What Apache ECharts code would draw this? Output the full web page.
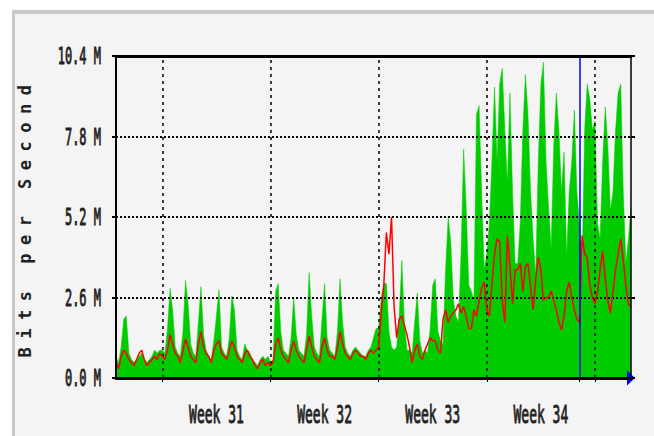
<!DOCTYPE html>
<html><head><meta charset="utf-8">
<script src="https://cdn.jsdelivr.net/npm/echarts@6/dist/echarts.min.js"></script>
<style>html,body{margin:0;padding:0;background:#fff}#c{width:654px;height:436px}</style>
</head><body><div id="c"></div>
<script>
// ---- data (values in Mbit/s), one value every 4 hours starting on day -3 (Friday before week 31) ----
const weekLabels = ['Week 31', 'Week 32', 'Week 33', 'Week 34'];
const weekLabelDays = [3.5, 10.5, 17.5, 24.5];
const weekStartDays = [0, 7, 14, 21, 28];
const markerDay = 27;
const yTicks = [0, 2.6, 5.2, 7.8, 10.4];
const startDay = -3;
const stepDays = 1 / 6;

const inBits = [
  0.7,0.5,1.0,1.9,2.0,0.8,
  0.6,0.5,0.6,0.7,0.8,0.6,
  0.5,0.6,0.7,0.9,0.8,0.9,
  0.9,0.8,1.6,2.9,2.2,1.0,
  0.8,0.7,1.5,3.15,2.4,1.1,
  0.8,0.7,1.8,2.95,1.4,0.9,
  0.7,0.6,1.2,2.0,2.85,1.0,
  0.8,0.7,1.3,2.65,2.2,0.9,
  0.7,0.6,1.1,0.9,0.8,0.6,
  0.5,0.4,0.6,0.7,0.6,0.7,
  0.5,0.6,2.8,3.05,1.5,0.9,
  0.8,0.7,1.3,2.6,1.4,0.9,
  0.8,0.7,1.4,3.4,2.0,1.0,
  0.8,0.7,1.9,3.05,1.3,0.9,
  0.8,0.7,1.5,3.2,1.8,1.0,
  0.8,0.7,0.9,1.0,0.9,0.8,
  0.7,0.7,0.9,1.0,1.3,1.6,
  1.6,2.6,3.05,3.05,1.5,1.0,
  0.9,1.0,2.0,3.8,1.8,0.9,
  0.9,0.8,1.8,2.75,1.2,0.8,
  0.9,0.8,1.6,3.0,3.2,1.5,
  1.2,1.1,3.5,5.2,4.4,2.5,
  2.0,1.8,4.0,7.4,5.5,3.0,
  2.8,2.5,8.5,8.8,6.0,3.5,
  4.0,5.0,7.0,9.4,7.0,9.5,
  10.0,8.0,6.3,9.2,6.0,3.7,
  3.7,5.0,8.0,9.8,8.5,6.0,
  4.5,3.3,7.0,9.5,10.2,7.0,
  5.5,4.2,7.5,9.2,8.0,6.0,
  7.3,3.9,6.0,7.0,8.65,6.0,
  5.0,3.5,8.0,9.5,9.0,8.0,
  8.3,5.0,4.5,7.0,8.75,7.5,
  5.4,6.0,8.0,9.2,9.5,6.0,
  3.7,4.5,5.5
];

const outBits = [
  0.5,0.3,0.7,0.9,0.8,0.6,
  0.5,0.4,0.6,0.8,0.9,0.6,
  0.4,0.5,0.6,0.7,0.6,0.8,
  0.7,0.6,0.9,1.4,1.1,0.8,
  0.7,0.5,0.9,1.25,1.0,0.7,
  0.6,0.5,1.1,1.5,1.0,0.8,
  0.7,0.5,0.9,1.1,1.2,0.8,
  0.7,0.6,0.9,1.2,1.0,0.7,
  0.6,0.5,0.8,0.9,0.7,0.6,
  0.4,0.3,0.5,0.6,0.4,0.5,
  0.4,0.5,1.1,1.3,0.9,0.7,
  0.6,0.5,0.9,1.2,0.9,0.7,
  0.6,0.5,0.9,1.35,1.0,0.7,
  0.6,0.5,1.0,1.3,0.9,0.7,
  0.7,0.6,1.0,1.5,1.1,0.8,
  0.7,0.6,0.8,0.9,0.8,0.7,
  0.7,0.6,0.8,0.9,0.8,0.9,
  1.0,2.1,3.0,4.7,4.0,5.2,
  2.3,1.3,1.9,2.0,1.7,1.4,
  1.0,0.5,0.9,1.1,0.7,0.6,
  0.9,1.1,1.3,1.2,1.2,0.9,
  0.8,1.9,2.2,1.8,2.0,2.1,
  2.2,2.4,2.1,2.3,2.0,1.6,
  1.6,2.2,2.0,2.5,2.9,3.1,
  2.2,2.0,3.0,4.0,4.5,4.4,
  2.5,1.8,4.6,3.6,2.4,3.5,
  3.5,3.7,2.8,3.6,3.7,2.9,
  2.2,3.2,3.9,3.5,2.5,2.6,
  2.6,2.8,2.5,2.2,1.8,1.55,
  2.0,2.8,3.1,2.6,2.2,1.9,
  1.8,4.6,4.0,3.9,3.0,2.6,
  2.4,2.8,3.5,4.1,3.2,2.5,
  2.1,2.8,3.5,4.0,4.5,3.8,
  3.0,2.4,2.3
];

// ---- chart ----
const endDay = startDay + (inBits.length - 1) * stepDays;
const greenData = inBits.map((v, i) => [startDay + i * stepDays, v]);
const redData = outBits.map((v, i) => [startDay + i * stepDays, v]);
const FONT = "'DejaVu Sans Mono', monospace";
const yMin = yTicks[0], yMax = yTicks[yTicks.length - 1], yStep = yTicks[1] - yTicks[0];

const chart = echarts.init(document.getElementById('c'), null, {renderer: 'svg', width: 654, height: 436});
chart.setOption({
  animation: false,
  backgroundColor: '#ffffff',
  graphic: {elements: [
    {type: 'rect', left: 12, top: 10, z: -100, silent: true, shape: {width: 642, height: 426}, style: {fill: '#c8c8c8'}},
    {type: 'rect', left: 15, top: 14, z: -99, silent: true, shape: {width: 639, height: 422}, style: {fill: '#f4f4f4'}}
  ]},
  grid: {left: 116, right: 23, top: 56, bottom: 58, containLabel: false},
  xAxis: [{
    type: 'value', min: startDay, max: endDay, z: 10,
    axisLine: {show: true, onZero: false, lineStyle: {color: '#000', width: 3}},
    axisTick: {show: true, customValues: weekStartDays.concat([markerDay]), length: 4, lineStyle: {color: '#000', width: 1}},
    axisLabel: {customValues: weekLabelDays, formatter: v => weekLabels[weekLabelDays.indexOf(v)] || '',
      margin: 25, fontFamily: FONT, fontSize: 13, color: '#222'},
    splitLine: {show: false}
  }, {
    type: 'value', position: 'top', min: startDay, max: endDay, z: 10,
    axisLine: {show: true, onZero: false, lineStyle: {color: '#000', width: 3}},
    axisTick: {show: false}, axisLabel: {show: false}, splitLine: {show: false}
  }],
  yAxis: [{
    type: 'value', min: yMin, max: yMax, interval: yStep, z: 10,
    name: 'Bits per Second', nameLocation: 'middle', nameGap: 83, nameRotate: 90,
    nameTextStyle: {fontFamily: FONT, fontSize: 17, fontWeight: 'bold', color: '#222'},
    axisLine: {show: true, onZero: false, lineStyle: {color: '#000', width: 2}},
    axisTick: {show: true, length: 4, lineStyle: {color: '#000', width: 2}},
    axisLabel: {formatter: v => v.toFixed(1) + ' M', margin: 15, fontFamily: FONT, fontSize: 12, color: '#222'},
    splitLine: {show: false}
  }, {
    type: 'value', position: 'right', min: yMin, max: yMax, interval: yStep, z: 10,
    axisLine: {show: true, onZero: false, lineStyle: {color: '#000', width: 1.5}},
    axisTick: {show: true, length: 4, lineStyle: {color: '#000', width: 2}},
    axisLabel: {show: false}, splitLine: {show: false}
  }],
  series: [{
    name: 'In', type: 'line', data: greenData, showSymbol: false, symbol: 'none', z: 2,
    lineStyle: {width: 0.5, color: '#00cc00'}, areaStyle: {color: '#00cc00', opacity: 1},
    markLine: {
      silent: true, symbol: ['none', 'none'], label: {show: false}, z: 4,
      data: weekStartDays.map(d => ({xAxis: d, lineStyle: {type: [3, 4], width: 1.5, color: '#000'}}))
        .concat(yTicks.slice(1, -1).map(v => ({yAxis: v, lineStyle: {type: [2, 2], width: 2, color: '#000'}})))
    }
  }, {
    name: 'Out', type: 'line', data: redData, showSymbol: false, symbol: 'none', z: 6,
    lineStyle: {width: 1.5, color: '#ff0000'},
    markLine: {
      silent: true, symbol: ['none', 'none'], label: {show: false}, z: 7,
      data: [{xAxis: markerDay, lineStyle: {type: 'solid', width: 1.5, color: '#0000ff'}}]
    },
    markPoint: {
      symbol: 'triangle', symbolSize: [15, 8], symbolRotate: -90, silent: true,
      itemStyle: {color: '#0000ff'}, label: {show: false},
      data: [{coord: [endDay, 0]}]
    }
  }]
});

// MRTG-style lettering: spaced axis title, tall narrow tick labels
const STRETCH = ' scale(1,1.9)';
function styleTexts() {
  const tickTexts = new Set(weekLabels.concat(yTicks.map(v => v.toFixed(1) + ' M')));
  document.querySelectorAll('#c text').forEach(t => {
    const s = t.textContent;
    if (s === 'Bits per Second') {
      t.style.letterSpacing = '8.5px';
    } else if (tickTexts.has(s)) {
      t.style.stroke = '#222';
      t.style.strokeWidth = '0.5px';
      const tr = t.getAttribute('transform');
      if (tr) {
        if (tr.indexOf(STRETCH) < 0) t.setAttribute('transform', tr + STRETCH);
      } else {
        const x = parseFloat(t.getAttribute('x') || 0), y = parseFloat(t.getAttribute('y') || 0);
        t.setAttribute('transform', 'translate(' + x + ',' + y + ')' + STRETCH + ' translate(' + (-x) + ',' + (-y) + ')');
      }
    }
  });
}
styleTexts();
chart.on('finished', styleTexts);
setTimeout(styleTexts, 50);
</script>
</body></html>
